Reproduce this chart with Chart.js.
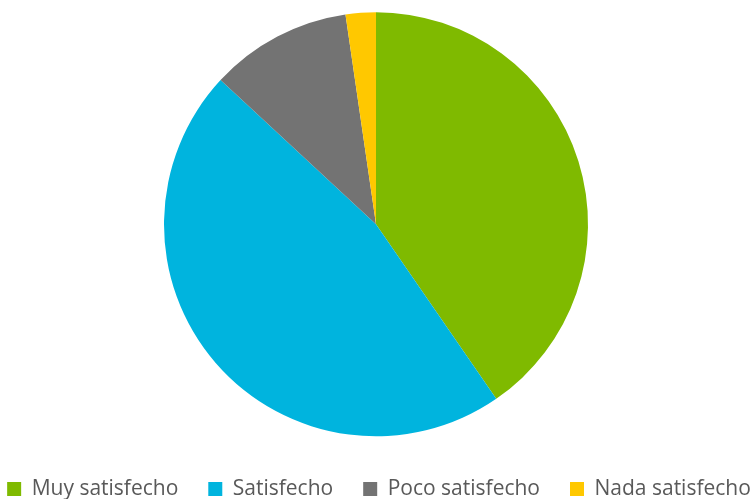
<!DOCTYPE html>
<html>
<head>
<meta charset="utf-8">
<script src="https://cdn.jsdelivr.net/npm/chart.js@4.4.0/dist/chart.umd.min.js"></script>
<style>
  html, body { margin: 0; padding: 0; background: #fff; }
  #wrap { width: 752px; height: 499px; }
</style>
</head>
<body>
<div id="wrap"><canvas id="chartPie" width="752" height="499"></canvas></div>
<script>
// Categorías y porcentajes
const categorias = ['Muy satisfecho', 'Satisfecho', 'Poco satisfecho', 'Nada satisfecho'];
const valores = [40.4, 46.5, 10.8, 2.3];
const colores = ['#7FBA00', '#00B4DE', '#737373', '#FFC800'];

// La leyenda ocupa una sola fila ancha y una altura fija abajo
const ALTO_LEYENDA = 50.5;
const ajusteLeyenda = {
    id: 'ajusteLeyenda',
    afterInit(chart) {
        const leyenda = chart.legend;
        const fitOriginal = leyenda.fit.bind(leyenda);
        leyenda.fit = function () {
            const ancho = this.maxWidth;
            this.maxWidth = 5000;
            fitOriginal();
            this.maxWidth = ancho;
            this.width = ancho;
            this.height = ALTO_LEYENDA;
        };
        // ensanchar los bordes al dibujar para que no salte de línea
        const drawOriginal = leyenda.draw.bind(leyenda);
        leyenda.draw = function () {
            this.left -= 47;
            this.right += 53;
            drawOriginal();
            this.left += 47;
            this.right -= 53;
        };
    }
};

const ctx = document.getElementById('chartPie').getContext('2d');
new Chart(ctx, {
    type: 'pie',
    data: {
        labels: categorias,
        datasets: [{
            data: valores,
            backgroundColor: colores,
            borderWidth: 0,
            radius: 212,
        }]
    },
    options: {
        responsive: false,
        animation: false,
        layout: { padding: { top: -0.5, bottom: 0, left: 0, right: 0 } },
        plugins: {
            tooltip: { enabled: false },
            legend: {
                position: 'bottom',
                labels: {
                    boxWidth: 14,
                    boxHeight: 14,
                    padding: 30,
                    color: '#595959',
                    font: { family: "'Open Sans', sans-serif", size: 21 }
                }
            }
        }
    },
    plugins: [ajusteLeyenda]
});
</script>
</body>
</html>
